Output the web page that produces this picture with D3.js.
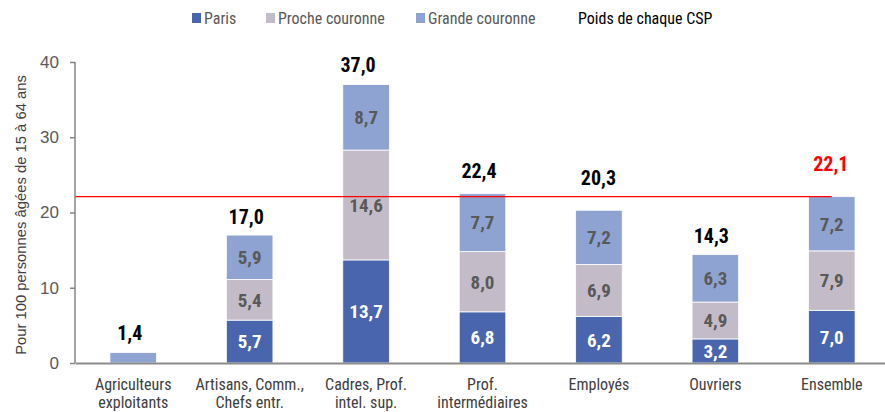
<!DOCTYPE html>
<html>
<head>
<meta charset="utf-8">
<script src="https://cdn.jsdelivr.net/npm/d3@7"></script>
<style>
  body { margin: 0; background: #fff; }
  svg { display: block; font-family: "Roboto Condensed", "Liberation Sans", sans-serif; }
</style>
</head>
<body>
<svg id="chart" width="885" height="412"></svg>
<script>
const categories = [
  ["Agriculteurs", "exploitants"],
  ["Artisans, Comm.,", "Chefs entr."],
  ["Cadres, Prof.", "intel. sup."],
  ["Prof.", "intermédiaires"],
  ["Employés"],
  ["Ouvriers"],
  ["Ensemble"]
]
const paris = [0, 5.7, 13.7, 6.8, 6.2, 3.2, 7.0]
const proche = [0, 5.4, 14.6, 8.0, 6.9, 4.9, 7.9]
const grande = [1.4, 5.9, 8.7, 7.7, 7.2, 6.3, 7.2]
const totals = [1.4, 17.0, 37.0, 22.4, 20.3, 14.3, 22.1]
const seriesNames = ["Paris", "Proche couronne", "Grande couronne"]
const yTicks = [0, 10, 20, 30, 40]
const average = 22.1

const colors = ["#4965ae", "#c3bcc8", "#8fa3d2"]
const labelColors = ["#ffffff", "#595959", "#595959"]

const svg = d3.select("#chart")
const margin = { left: 75, right: -5, top: 62, bottom: 49 }
const width = 885, height = 412

const x = d3.scaleBand()
  .domain(d3.range(categories.length))
  .range([margin.left, width - margin.right])

const y = d3.scaleLinear()
  .domain([0, 40])
  .range([height - margin.bottom, margin.top])

const rows = categories.map((c, i) => ({ i, Paris: paris[i], "Proche couronne": proche[i], "Grande couronne": grande[i] }))
const stacked = d3.stack().keys(seriesNames)(rows)
const barW = x.bandwidth() * 0.4
const cx = i => x(i) + x.bandwidth() / 2
const fmt = v => d3.format(".1f")(v).replace(".", ",")

// bars
stacked.forEach((layer, k) => {
  const g = svg.append("g")
  g.selectAll("rect")
    .data(layer)
    .join("rect")
    .attr("x", d => cx(d.data.i) - barW / 2)
    .attr("width", barW)
    .attr("y", d => y(d[1]))
    .attr("height", d => y(d[0]) - y(d[1]))
    .attr("fill", colors[k])
    .attr("stroke", "#fff")
    .attr("stroke-width", 0.8)

  g.selectAll("text")
    .data(layer.filter(d => d[1] - d[0] >= 2))
    .join("text")
    .attr("x", d => cx(d.data.i))
    .attr("y", d => (y(d[0]) + y(d[1])) / 2)
    .attr("dy", "0.36em")
    .attr("text-anchor", "middle")
    .attr("font-size", 19)
    .attr("font-weight", "bold")
    .attr("fill", labelColors[k])
    .text(d => fmt(d[1] - d[0]))
})

// average line
svg.append("line")
  .attr("x1", margin.left)
  .attr("x2", cx(categories.length - 1))
  .attr("y1", y(average))
  .attr("y2", y(average))
  .attr("stroke", "#ff0000")
  .attr("stroke-width", 1.3)

// totals: labels were nudged by hand in the original
const last = categories.length - 1
const liftY = [12.5, 11, 12.5, 16, 25, 12.5, 26]
const nudgeX = [-3.5, -3.5, -8, -3.5, -0.5, -4, -1]
svg.append("g")
  .selectAll("text")
  .data(totals)
  .join("text")
  .attr("x", (d, i) => cx(i) + nudgeX[i])
  .attr("y", (d, i) => y(d) - liftY[i])
  .attr("text-anchor", "middle")
  .attr("font-size", 20)
  .attr("font-weight", "bold")
  .attr("fill", (d, i) => i === last ? "#ff0000" : "#000")
  .text(fmt)

// y axis
const yAxis = svg.append("g")
  .attr("transform", `translate(${margin.left},0)`)
  .call(d3.axisLeft(y).tickValues(yTicks).tickSize(5).tickPadding(11))
yAxis.selectAll("path, line").attr("stroke", "#868686").attr("stroke-width", 1.5)
yAxis.select(".domain").attr("d", `M0,${y(0)}V${y(40)}`)
yAxis.selectAll("text").attr("font-size", 17).attr("fill", "#595959").attr("font-family", null)

// x axis
const xAxis = svg.append("g")
  .attr("transform", `translate(0,${y(0)})`)
  .call(d3.axisBottom(x).tickSize(0).tickFormat(""))
xAxis.select(".domain").attr("stroke", "#8c8c8c").attr("stroke-width", 2)

svg.append("g")
  .selectAll("text")
  .data(categories)
  .join("text")
  .attr("x", (d, i) => cx(i))
  .attr("y", y(0) + 27)
  .attr("text-anchor", "middle")
  .attr("font-size", 16)
  .attr("fill", "#404040")
  .selectAll("tspan")
  .data(d => d)
  .join("tspan")
  .attr("x", function() { return this.parentNode.getAttribute("x") })
  .attr("dy", (d, j) => j ? 18 : 0)
  .text(d => d)

// y title
svg.append("text")
  .attr("transform", `translate(26,215) rotate(-90)`)
  .attr("text-anchor", "middle")
  .attr("font-family", "Liberation Sans, sans-serif")
  .attr("font-size", 14.8)
  .attr("fill", "#404040")
  .text("Pour 100 personnes âgées de 15 à 64 ans")

// legend
const legendX = [192, 266, 416]
const legend = svg.append("g")
seriesNames.forEach((name, k) => {
  legend.append("rect")
    .attr("x", legendX[k]).attr("y", 13)
    .attr("width", 9).attr("height", 10)
    .attr("fill", colors[k])
  legend.append("text")
    .attr("x", legendX[k] + 12).attr("y", 24)
    .attr("font-size", 16)
    .attr("fill", "#595959")
    .text(name)
})
legend.append("text")
  .attr("x", 578).attr("y", 24)
  .attr("font-size", 16)
  .attr("fill", "#000")
  .text("Poids de chaque CSP")
</script>
</body>
</html>
